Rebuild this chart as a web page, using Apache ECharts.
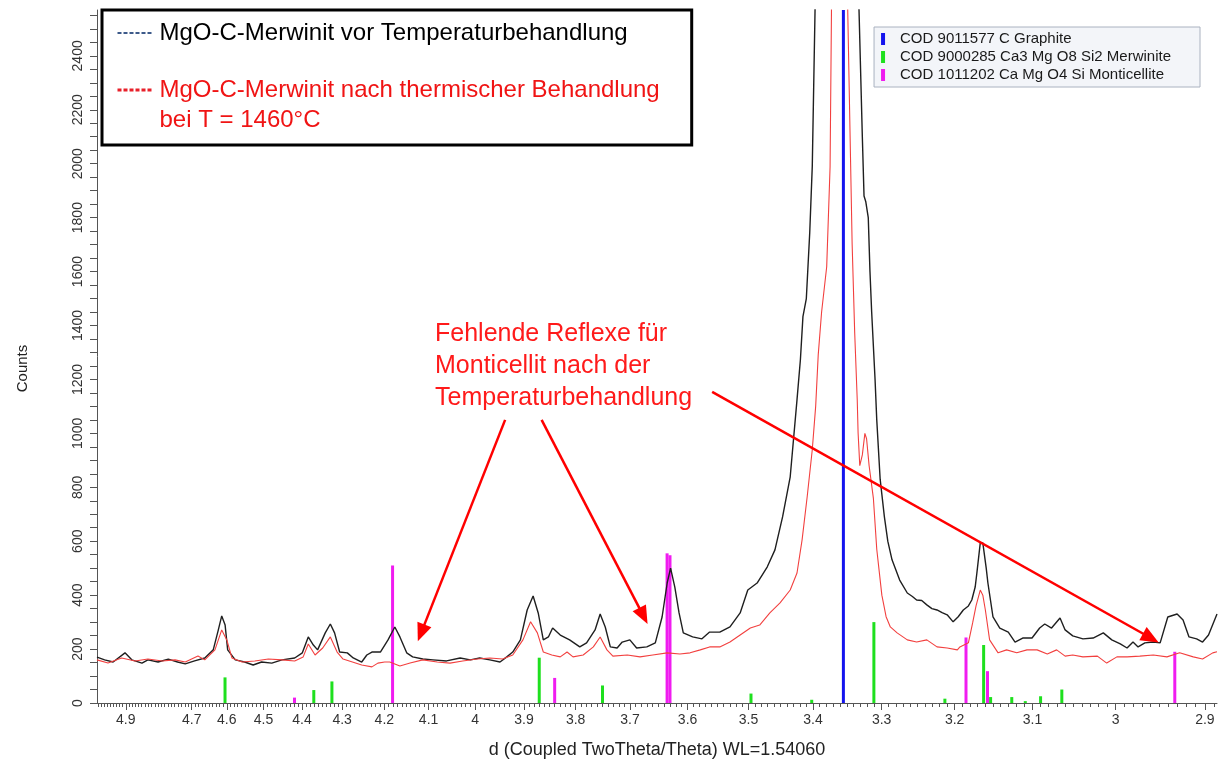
<!DOCTYPE html>
<html>
<head>
<meta charset="utf-8">
<script src="https://cdn.jsdelivr.net/npm/echarts@6/dist/echarts.min.js"></script>
<style>
html,body{margin:0;padding:0;background:#fff;}
#chart{width:1222px;height:765px;}
</style>
</head>
<body>
<div id="chart"></div>
<script>
// ---------------- data ----------------
const WAVELENGTH = 1.5406;
const twoThetaRange = [17.75, 30.95];
const countsRange = [0, 2570];

const tickLabelsD = [4.9, 4.7, 4.6, 4.5, 4.4, 4.3, 4.2, 4.1, 4.0, 3.9, 3.8, 3.7, 3.6, 3.5, 3.4, 3.3, 3.2, 3.1, 3.0, 2.9];
const countTickLabels = [0, 200, 400, 600, 800, 1000, 1200, 1400, 1600, 1800, 2000, 2200, 2400];

const nameBefore = 'MgO-C-Merwinit vor Temperaturbehandlung';
const nameAfter = 'MgO-C-Merwinit nach thermischer Behandlung\nbei T = 1460°C';
const nameGraphite = 'COD 9011577 C Graphite';
const nameMerwinite = 'COD 9000285 Ca3 Mg O8 Si2 Merwinite';
const nameMonticellite = 'COD 1011202 Ca Mg O4 Si Monticellite';

// measured curves: [2theta (deg), counts]
const beforeCurve = [
[17.75,170],[17.84,160],[17.94,152],[18.08,186],[18.16,160],[18.28,148],[18.35,160],[18.47,152],[18.59,163],[18.70,152],
[18.79,145],[18.90,156],[19.02,167],[19.12,197],[19.18,271],[19.22,323],[19.26,289],[19.29,197],[19.38,160],[19.49,152],
[19.59,141],[19.69,152],[19.81,148],[19.93,160],[20.08,167],[20.17,186],[20.24,245],[20.30,215],[20.35,197],[20.44,260],
[20.50,293],[20.55,260],[20.61,189],[20.70,186],[20.77,167],[20.87,152],[20.93,178],[20.99,189],[21.09,189],[21.18,234],
[21.26,282],[21.32,245],[21.40,186],[21.47,171],[21.59,163],[21.71,160],[21.87,156],[22.03,167],[22.15,160],[22.26,167],
[22.38,160],[22.50,152],[22.58,171],[22.65,189],[22.74,234],[22.82,345],[22.89,397],[22.95,334],[23.01,234],[23.07,245],
[23.12,278],[23.21,252],[23.32,234],[23.44,208],[23.52,223],[23.62,271],[23.68,330],[23.74,282],[23.80,208],[23.88,204],
[23.94,226],[24.03,234],[24.11,204],[24.23,208],[24.33,223],[24.41,319],[24.47,445],[24.51,500],[24.56,430],[24.61,334],
[24.66,260],[24.77,245],[24.88,238],[24.97,263],[25.09,263],[25.21,282],[25.33,334],[25.42,419],[25.53,445],[25.65,505],
[25.74,568],[25.83,690],[25.92,839],[26.00,1124],[26.04,1273],[26.07,1433],[26.11,1500],[26.15,1744],[26.18,1990],[26.22,2700],
[26.55,9000],[26.72,2700],[26.77,2100],[26.79,1880],[26.81,1860],[26.84,1800],[26.86,1600],[26.88,1450],[26.92,1200],[26.94,1050],
[26.98,830],[27.03,690],[27.07,600],[27.12,531],[27.21,456],[27.30,408],[27.36,395],[27.41,382],[27.47,380],[27.53,364],
[27.59,350],[27.65,345],[27.71,335],[27.77,327],[27.84,301],[27.90,320],[27.96,345],[28.02,360],[28.06,382],[28.10,430],
[28.12,482],[28.16,594],[28.19,594],[28.23,500],[28.25,445],[28.31,319],[28.39,278],[28.49,263],[28.57,226],[28.66,241],
[28.77,241],[28.86,278],[28.92,293],[29.00,278],[29.10,315],[29.16,271],[29.25,249],[29.37,238],[29.49,241],[29.61,260],
[29.71,234],[29.81,219],[29.89,204],[29.96,226],[30.02,208],[30.10,223],[30.20,226],[30.28,223],[30.37,319],[30.48,330],
[30.55,308],[30.62,245],[30.71,238],[30.78,226],[30.85,252],[30.95,330]
];

const afterCurve = [
[17.75,160],[17.88,148],[18.04,167],[18.20,156],[18.35,163],[18.52,156],[18.67,160],[18.79,152],[18.94,174],[19.02,160],
[19.14,197],[19.22,271],[19.28,234],[19.34,167],[19.46,152],[19.61,156],[19.77,163],[19.93,160],[20.08,156],[20.18,171],
[20.24,219],[20.32,178],[20.41,204],[20.50,245],[20.58,189],[20.65,163],[20.76,152],[20.87,141],[20.99,134],[21.06,148],
[21.14,152],[21.20,152],[21.32,137],[21.44,148],[21.59,160],[21.76,152],[21.91,148],[22.06,156],[22.23,163],[22.38,167],
[22.53,163],[22.65,178],[22.77,234],[22.86,301],[22.94,260],[23.01,189],[23.11,178],[23.21,171],[23.29,189],[23.36,171],
[23.48,178],[23.60,208],[23.68,245],[23.76,197],[23.83,174],[24.00,178],[24.15,171],[24.30,178],[24.47,186],[24.62,182],
[24.74,186],[24.86,197],[24.97,208],[25.09,208],[25.21,226],[25.33,252],[25.45,278],[25.56,289],[25.68,334],[25.80,371],
[25.92,419],[26.00,482],[26.06,605],[26.12,765],[26.18,939],[26.22,1100],[26.25,1290],[26.29,1450],[26.35,1618],[26.39,1990],
[26.41,2700],[26.55,6000],[26.59,2700],[26.65,1700],[26.68,1373],[26.71,1124],[26.72,1002],[26.74,880],[26.77,920],[26.80,1000],
[26.82,980],[26.85,880],[26.90,760],[26.94,570],[27.00,400],[27.05,320],[27.10,282],[27.18,260],[27.30,234],[27.41,226],
[27.53,234],[27.65,208],[27.77,204],[27.89,197],[27.92,208],[28.02,223],[28.07,297],[28.11,360],[28.16,419],[28.19,400],
[28.22,345],[28.27,234],[28.37,186],[28.47,197],[28.59,186],[28.71,197],[28.83,197],[28.95,182],[29.06,197],[29.16,174],
[29.25,178],[29.37,171],[29.54,174],[29.65,148],[29.77,171],[29.89,171],[30.04,174],[30.20,178],[30.36,171],[30.51,186],
[30.67,171],[30.78,163],[30.90,186],[30.95,190]
];

// reference patterns: [d (Angstrom), counts]
const graphiteSticks = [[3.355, 3000]];
const merwiniteSticks = [
[4.605,95],[4.370,48],[4.325,80],[3.870,168],[3.750,65],[3.496,35],[3.402,12],[3.311,300],
[3.213,16],[3.162,215],[3.153,22],[3.126,22],[3.109,7],[3.090,25],[3.064,50]
];
const monticelliteSticks = [
[4.419,20],[4.181,510],[3.840,93],[3.635,555],[3.630,548],[3.185,243],[3.157,118],[2.933,190]
];

// annotation arrows: [[2theta, counts] start, [2theta, counts] end]
const arrows = [
[[22.56,1050],[21.57,260]],
[[22.99,1050],[24.19,323]],
[[25.00,1154],[30.17,241]]
];
const annotationLines = ['Fehlende Reflexe für', 'Monticellit nach der', 'Temperaturbehandlung'];

// ---------------- helpers ----------------
const toTwoTheta = d => 2 * Math.asin(WAVELENGTH / (2 * d)) * 180 / Math.PI;
const toD = tt => WAVELENGTH / (2 * Math.sin(tt / 2 * Math.PI / 180));
const inRange = v => v >= twoThetaRange[0] - 1e-9 && v <= twoThetaRange[1] + 1e-9;

const majorTT = tickLabelsD.map(toTwoTheta);
const minorTT = [];
for (let i = 289; i <= 499; i++) {
  const tt = toTwoTheta(i / 100);
  if (inRange(tt)) minorTT.push(tt);
}
const yMinorTicks = [];
for (let v = 0; v <= 2550; v += 50) yMinorTicks.push(v);

const stickData = arr => arr.map(([d, v]) => [toTwoTheta(d), v]);
const FONT = 'Liberation Sans, Arial, sans-serif';
const hiddenSymbol = {color: 'rgba(0,0,0,0)', opacity: 0, borderWidth: 0};

const chart = echarts.init(document.getElementById('chart'), null, {renderer: 'canvas'});
chart.setOption({
  animation: false,
  backgroundColor: '#ffffff',
  textStyle: {fontFamily: FONT},
  grid: {left: 97, right: 5, top: 10, bottom: 62, containLabel: false, outerBoundsMode: 'none'},
  xAxis: [{
    type: 'value', min: twoThetaRange[0], max: twoThetaRange[1],
    name: 'd (Coupled TwoTheta/Theta) WL=1.54060',
    nameLocation: 'middle', nameGap: 38,
    nameTextStyle: {fontSize: 18, color: '#222', fontFamily: FONT},
    axisLine: {show: true, lineStyle: {color: '#555', width: 1}},
    axisTick: {show: true, customValues: majorTT, length: 7, lineStyle: {color: '#555'}},
    axisLabel: {customValues: majorTT, fontSize: 14, color: '#333', margin: 10, fontFamily: FONT,
      formatter: v => String(Math.round(toD(v) * 10) / 10)},
    splitLine: {show: false}
  }, {
    type: 'value', min: twoThetaRange[0], max: twoThetaRange[1], position: 'bottom',
    axisLine: {show: false},
    axisTick: {show: true, customValues: minorTT, length: 4, lineStyle: {color: '#555'}},
    axisLabel: {show: false},
    splitLine: {show: false}
  }],
  yAxis: {
    type: 'value', min: countsRange[0], max: countsRange[1],
    name: 'Counts', nameLocation: 'middle', nameGap: 67,
    nameTextStyle: {fontSize: 15, color: '#222', fontFamily: FONT, padding: [0, 24, 0, 0]},
    axisLine: {show: true, lineStyle: {color: '#555', width: 1}},
    axisTick: {show: true, customValues: yMinorTicks, length: 7, lineStyle: {color: '#555'}},
    axisLabel: {customValues: countTickLabels, rotate: 90, fontSize: 14, color: '#333', margin: 12, fontFamily: FONT,
      formatter: v => String(v)},
    splitLine: {show: false}
  },
  legend: [{
    selectedMode: false,
    orient: 'vertical', left: 102, top: 10,
    padding: [8, 32, 10, 14],
    itemGap: -3, itemWidth: 34, itemHeight: 14,
    backgroundColor: '#ffffff', borderColor: '#000', borderWidth: 3,
    textStyle: {fontSize: 24, lineHeight: 30, color: '#000', fontFamily: FONT, padding: [0, 0, 0, 3]},
    formatter: name => (name === nameAfter ? '\n' + name : name),
    data: [
      {name: nameBefore, lineStyle: {color: '#3d5a8a', type: [4, 2], width: 2}, itemStyle: hiddenSymbol},
      {name: nameAfter, lineStyle: {color: '#e8202a', type: [4, 2], width: 3}, itemStyle: hiddenSymbol,
        textStyle: {color: '#f01414', fontSize: 24, lineHeight: 30}}
    ]
  }, {
    selectedMode: false,
    orient: 'vertical', right: 22, top: 27,
    padding: [4, 29, 4, 7],
    itemGap: 2, itemWidth: 4, itemHeight: 12, icon: 'rect',
    backgroundColor: '#f3f5f9', borderColor: '#aab2c0', borderWidth: 1,
    textStyle: {fontSize: 15, lineHeight: 16, color: '#1a1a1a', fontFamily: FONT, padding: [0, 0, 0, 10]},
    data: [nameGraphite, nameMerwinite, nameMonticellite]
  }],
  graphic: [{
    type: 'text', left: 435, top: 318, z: 20,
    style: {text: annotationLines.join('\n'), fontSize: 25, lineHeight: 32, fill: '#ff1a1a', fontFamily: FONT}
  }],
  series: [
    {name: nameGraphite, type: 'bar', data: stickData(graphiteSticks), barWidth: 3, barGap: '-100%',
      itemStyle: {color: '#1414ee'}, z: 2, silent: true},
    {name: nameMerwinite, type: 'bar', data: stickData(merwiniteSticks), barWidth: 3, barGap: '-100%',
      itemStyle: {color: '#1ee01e'}, z: 2, silent: true},
    {name: nameMonticellite, type: 'bar', data: stickData(monticelliteSticks), barWidth: 3, barGap: '-100%',
      itemStyle: {color: '#f01cf0'}, z: 2, silent: true},
    {name: nameBefore, type: 'line', data: beforeCurve, symbol: 'none', showSymbol: false,
      lineStyle: {color: '#1f1f1f', width: 1.4}, itemStyle: {color: '#1f1f1f'}, z: 3, silent: true},
    {name: nameAfter, type: 'line', data: afterCurve, symbol: 'none', showSymbol: false,
      lineStyle: {color: '#f2403f', width: 1.1}, itemStyle: {color: '#f2403f'}, z: 4, silent: true},
    {name: 'annotations', type: 'line', data: [], z: 10, silent: true,
      markLine: {
        silent: true, animation: false,
        symbol: ['none', 'triangle'], symbolSize: [15, 18],
        lineStyle: {color: '#ff0000', width: 2.5, type: 'solid'},
        itemStyle: {color: '#ff0000'},
        label: {show: false},
        emphasis: {disabled: true},
        data: arrows.map(([a, b]) => [{coord: a}, {coord: b}])
      }}
  ]
});
</script>
</body>
</html>
